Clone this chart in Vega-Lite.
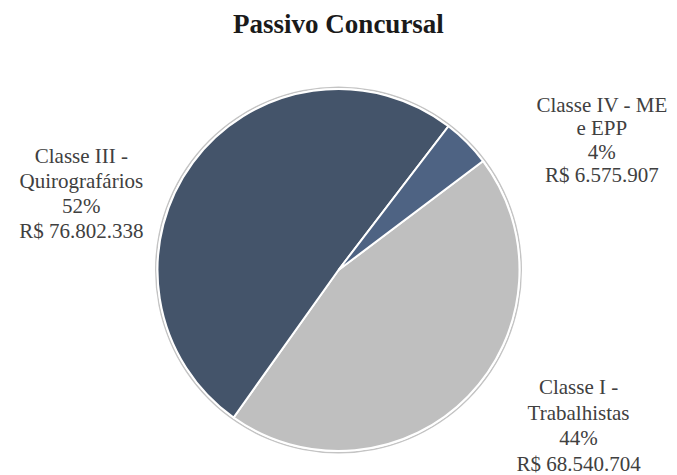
{
  "$schema": "https://vega.github.io/schema/vega-lite/v6.json",
  "width": 677,
  "height": 410,
  "autosize": {"type": "none"},
  "padding": {"left": 0, "right": 0, "top": 65, "bottom": 0},
  "background": "white",
  "title": {
    "text": "Passivo Concursal",
    "font": "Liberation Serif",
    "fontSize": 27,
    "fontWeight": "bold",
    "color": "#1a1a1a",
    "anchor": "middle",
    "frame": "group",
    "offset": 2
  },
  "data": {
    "values": [
      {"cat": "Classe I - Trabalhistas", "value": 68540704, "label": "Classe I -\nTrabalhistas\n44%\nR$ 68.540.704"},
      {"cat": "Classe III - Quirografários", "value": 76802338, "label": "Classe III -\nQuirografários\n52%\nR$ 76.802.338"},
      {"cat": "Classe IV - ME e EPP", "value": 6575907, "label": "Classe IV - ME\ne EPP\n4%\nR$ 6.575.907"}
    ]
  },
  "config": {"view": {"stroke": null}},
  "layer": [
    {
      "transform": [{"aggregate": [{"op": "count", "as": "n"}]}],
      "mark": {"type": "arc", "innerRadius": 182, "outerRadius": 183.5, "color": "#C4C4C4"},
      "encoding": {}
    },
    {
      "mark": {"type": "arc", "outerRadius": 181, "stroke": "white", "strokeWidth": 2},
      "encoding": {
        "theta": {"field": "value", "type": "quantitative", "stack": true, "scale": {"range": [0.925, 7.2082]}},
        "color": {
          "field": "cat",
          "type": "nominal",
          "scale": {"domain": ["Classe I - Trabalhistas", "Classe III - Quirografários", "Classe IV - ME e EPP"], "range": ["#BFBFBF", "#44546A", "#4E6383"]},
          "legend": null
        }
      }
    },
    {
      "mark": {"type": "text", "radius": 240, "dx": 93, "dy": 5, "font": "Liberation Serif", "fontSize": 21, "lineBreak": "\n", "lineHeight": 23.5, "color": "#404040", "align": "center", "baseline": "middle"},
      "encoding": {
        "theta": {"field": "value", "type": "quantitative", "stack": true},
        "detail": {"field": "cat", "type": "nominal"},
        "text": {"condition": {"test": "datum.cat === 'Classe IV - ME e EPP'", "field": "label"}, "value": ""}
      }
    },
    {
      "mark": {"type": "text", "radius": 240, "dx": 68, "dy": -49, "font": "Liberation Serif", "fontSize": 21, "lineBreak": "\n", "lineHeight": 25.5, "color": "#404040", "align": "center", "baseline": "middle"},
      "encoding": {
        "theta": {"field": "value", "type": "quantitative", "stack": true},
        "detail": {"field": "cat", "type": "nominal"},
        "text": {"condition": {"test": "datum.cat === 'Classe I - Trabalhistas'", "field": "label"}, "value": ""}
      }
    },
    {
      "mark": {"type": "text", "radius": 240, "dx": -64, "dy": 29, "font": "Liberation Serif", "fontSize": 21, "lineBreak": "\n", "lineHeight": 25, "color": "#404040", "align": "center", "baseline": "middle"},
      "encoding": {
        "theta": {"field": "value", "type": "quantitative", "stack": true},
        "detail": {"field": "cat", "type": "nominal"},
        "text": {"condition": {"test": "datum.cat === 'Classe III - Quirografários'", "field": "label"}, "value": ""}
      }
    }
  ]
}
